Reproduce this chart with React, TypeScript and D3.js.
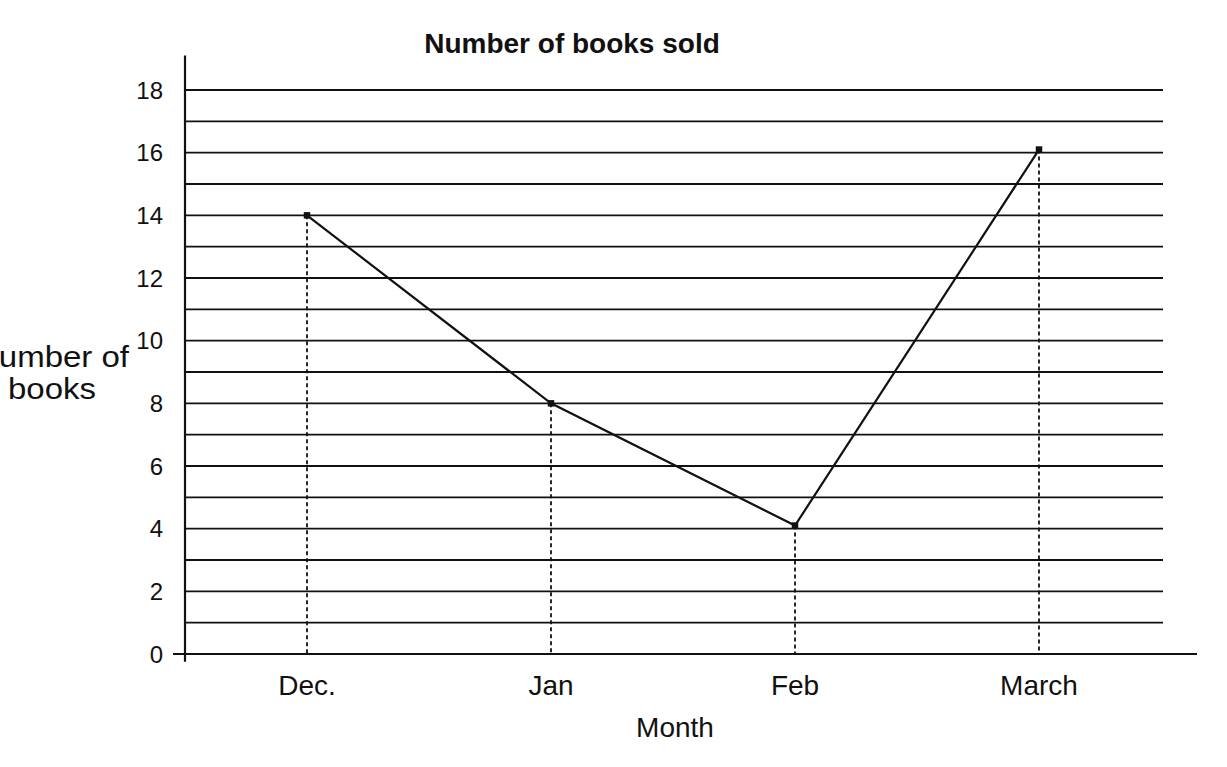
import React, { useRef, useEffect } from 'react';
import * as d3 from 'd3';

const months = ['Dec.', 'Jan', 'Feb', 'March'];
const booksSold = [14, 8, 4.1, 16.1];
const yTicks = [0, 2, 4, 6, 8, 10, 12, 14, 16, 18];
const gridValues = [1, 2, 3, 4, 5, 6, 7, 8, 9, 10, 11, 12, 13, 14, 15, 16, 17, 18];

const WIDTH = 1227;
const HEIGHT = 767;
const FONT = '"Liberation Sans", Arial, sans-serif';

export default function App() {
    const svgRef = useRef<SVGSVGElement | null>(null);

    useEffect(() => {
        if (!svgRef.current) return;
        const svg = d3.select(svgRef.current);
        svg.selectAll('*').remove();

        const x = d3.scaleBand<string>().domain(months).range([185, 1161]);
        const y = d3.scaleLinear().domain([0, 18]).range([654, 90]);
        const cx = (m: string) => (x(m) ?? 0) + x.bandwidth() / 2;

        svg.append('rect').attr('width', WIDTH).attr('height', HEIGHT).attr('fill', '#fff');

        // horizontal grid
        svg.append('g')
            .selectAll('line')
            .data(gridValues)
            .enter().append('line')
            .attr('x1', 185)
            .attr('x2', 1163)
            .attr('y1', d => y(d))
            .attr('y2', d => y(d))
            .attr('stroke', '#111')
            .attr('stroke-width', 1.8);

        // x axis baseline
        svg.append('line')
            .attr('x1', 173).attr('x2', 1197)
            .attr('y1', y(0)).attr('y2', y(0))
            .attr('stroke', '#111').attr('stroke-width', 2);

        // y axis
        svg.append('line')
            .attr('x1', 185).attr('x2', 185)
            .attr('y1', y(19.1)).attr('y2', y(-0.25))
            .attr('stroke', '#111').attr('stroke-width', 2.2);

        // y tick labels
        svg.append('g')
            .selectAll('text')
            .data(yTicks)
            .enter().append('text')
            .attr('x', 163)
            .attr('y', d => y(d))
            .attr('dy', '0.36em')
            .attr('text-anchor', 'end')
            .style('font-family', FONT)
            .style('font-size', '24px')
            .attr('fill', '#111')
            .text(d => d);

        // dashed drop lines
        svg.append('g')
            .selectAll('line')
            .data(months)
            .enter().append('line')
            .attr('x1', d => cx(d))
            .attr('x2', d => cx(d))
            .attr('y1', (d, i) => y(booksSold[i]))
            .attr('y2', y(0))
            .attr('stroke', '#111')
            .attr('stroke-width', 1.8)
            .attr('stroke-dasharray', '4 3');

        // data line
        const line = d3.line<number>()
            .x((d, i) => cx(months[i]))
            .y(d => y(d));

        svg.append('path')
            .datum(booksSold)
            .attr('d', line)
            .attr('fill', 'none')
            .attr('stroke', '#111')
            .attr('stroke-width', 2.2);

        // markers
        svg.append('g')
            .selectAll('path')
            .data(booksSold)
            .enter().append('path')
            .attr('transform', (d, i) => `translate(${cx(months[i])},${y(d)})`)
            .attr('d', d3.symbol().type(d3.symbolSquare).size(42)())
            .attr('fill', '#111');

        // x labels
        svg.append('g')
            .selectAll('text')
            .data(months)
            .enter().append('text')
            .attr('x', d => cx(d))
            .attr('y', 695)
            .attr('text-anchor', 'middle')
            .style('font-family', FONT)
            .style('font-size', '28px')
            .attr('fill', '#111')
            .text(d => d);

        svg.append('text')
            .attr('x', 675).attr('y', 737)
            .attr('text-anchor', 'middle')
            .style('font-family', FONT)
            .style('font-size', '28px')
            .attr('fill', '#111')
            .text('Month');

        // y label (cut at the left edge, as in the scan)
        const yLabel = svg.append('text')
            .attr('transform', 'translate(52,0) scale(1.1,1)')
            .attr('text-anchor', 'middle')
            .style('font-family', FONT)
            .style('font-size', '30px')
            .attr('fill', '#111');
        yLabel.append('tspan').attr('x', 0).attr('y', 367).text('Number of');
        yLabel.append('tspan').attr('x', 0).attr('y', 399).text('books');

        // title
        svg.append('text')
            .attr('x', 572).attr('y', 53)
            .attr('text-anchor', 'middle')
            .style('font-family', FONT)
            .style('font-size', '28px')
            .style('font-weight', 'bold')
            .attr('fill', '#111')
            .text('Number of books sold');
    }, []);

    return (
        <svg
            ref={svgRef}
            width={WIDTH}
            height={HEIGHT}
            style={{ position: 'absolute', left: 0, top: 0, display: 'block' }}
        />
    );
}
